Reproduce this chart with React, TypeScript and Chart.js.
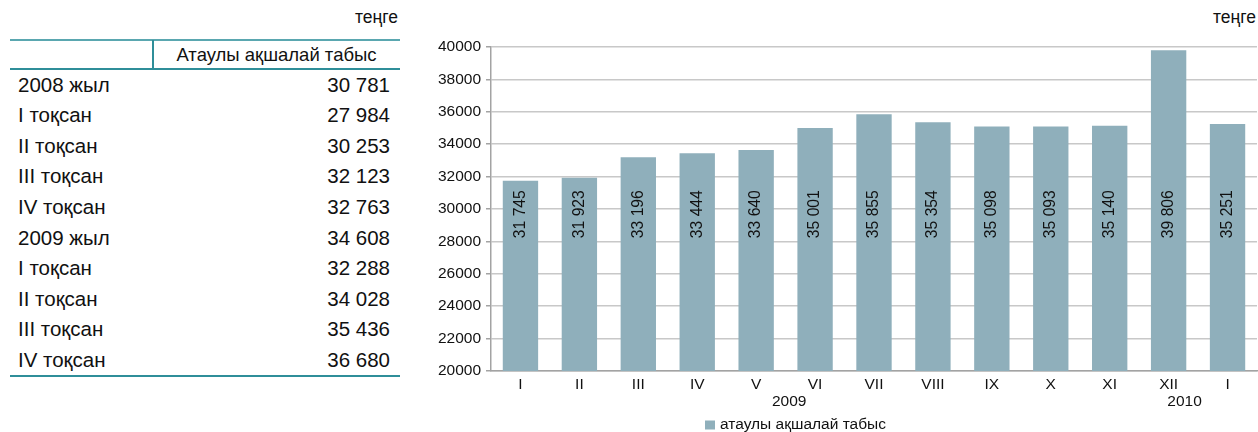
import React, { useEffect, useRef } from "react";
import { Chart, registerables } from "chart.js";

Chart.register(...registerables);

// ---------- data ----------
const months = ["I", "II", "III", "IV", "V", "VI", "VII", "VIII", "IX", "X", "XI", "XII", "I"];
const incomeValues = [31745, 31923, 33196, 33444, 33640, 35001, 35855, 35354, 35098, 35093, 35140, 39806, 35251];
const yearLabels = ["2009", "2010"];
const yMin = 20000;
const yMax = 40000;
const yStep = 2000;
const seriesLabel = "атаулы ақшалай табыс";
const unitLabel = "теңге";

const tableHeader = "Атаулы ақшалай табыс";
const tableRowLabels = [
  "2008 жыл",
  "I тоқсан",
  "II тоқсан",
  "III тоқсан",
  "IV тоқсан",
  "2009 жыл",
  "I тоқсан",
  "II тоқсан",
  "III тоқсан",
  "IV тоқсан",
];
const tableRowValues = [30781, 27984, 30253, 32123, 32763, 34608, 32288, 34028, 35436, 36680];

// ---------- styles ----------
const FONT = '"Liberation Sans", Arial, Helvetica, sans-serif';
const BAR_COLOR = "#8FAFBB";
const GRID_COLOR = "#c8c8c8";
const AXIS_COLOR = "#a3a3a3";
const TEXT_COLOR = "#111111";
const TEAL = "#2f8e99";
const TEAL_LIGHT = "#5aa7b0";

const fmt = (n: number) => String(n).replace(/\B(?=(\d{3})+(?!\d))/g, " ");

const extrasPlugin = {
  id: "extras",
  afterDatasetsDraw(chart: any) {
    const ctx = chart.ctx;
    const yScale = chart.scales.y;
    const meta = chart.getDatasetMeta(0);
    const values = chart.data.datasets[0].data as number[];
    ctx.save();
    ctx.fillStyle = TEXT_COLOR;
    ctx.font = `15.7px ${FONT}`;
    ctx.textAlign = "left";
    ctx.textBaseline = "middle";
    const baseY = yScale.getPixelForValue(28200);
    meta.data.forEach((bar: any, i: number) => {
      ctx.save();
      ctx.translate(bar.x, baseY);
      ctx.rotate(-Math.PI / 2);
      ctx.fillText(fmt(values[i]), 0, 0);
      ctx.restore();
    });
    ctx.restore();
  },
  afterDraw(chart: any) {
    const ctx = chart.ctx;
    const xScale = chart.scales.x;
    const area = chart.chartArea;
    ctx.save();
    ctx.fillStyle = TEXT_COLOR;
    ctx.font = `15.5px ${FONT}`;
    ctx.textAlign = "center";
    ctx.textBaseline = "middle";
    const yearAt = [4.56, 11.27];
    yearLabels.forEach((t, i) => {
      ctx.fillText(t, xScale.getPixelForValue(yearAt[i]), area.bottom + 31);
    });
    // legend
    const lx = area.left + 214;
    const ly = area.bottom + 54;
    ctx.fillStyle = BAR_COLOR;
    ctx.fillRect(lx, ly - 4.5, 10, 9);
    ctx.fillStyle = TEXT_COLOR;
    ctx.textAlign = "left";
    ctx.fillText(chart.data.datasets[0].label, lx + 15, ly);
    ctx.restore();
  },
};

function BarChart() {
  const ref = useRef<HTMLCanvasElement | null>(null);
  useEffect(() => {
    if (!ref.current) return;
    const font = { family: FONT, size: 15.5 };
    const chart = new Chart(ref.current, {
      type: "bar",
      data: {
        labels: months,
        datasets: [
          {
            label: seriesLabel,
            data: incomeValues,
            backgroundColor: BAR_COLOR,
            barPercentage: 0.6,
            categoryPercentage: 1,
          },
        ],
      },
      options: {
        animation: false,
        responsive: false,
        maintainAspectRatio: false,
        layout: { padding: { top: 47, right: 1, left: 0, bottom: 0 } },
        plugins: { legend: { display: false }, tooltip: { enabled: false } },
        scales: {
          x: {
            grid: { display: false, drawTicks: false },
            border: { display: true, color: AXIS_COLOR, width: 1.5 },
            ticks: { font, color: TEXT_COLOR, padding: 4, maxRotation: 0, autoSkip: false },
            afterFit: (s: any) => {
              s.height = 61;
            },
          },
          y: {
            min: yMin,
            max: yMax,
            ticks: {
              stepSize: yStep,
              font,
              color: TEXT_COLOR,
              padding: 5,
              callback: (v: any) => String(v),
            },
            grid: { color: GRID_COLOR, lineWidth: 1.5, tickLength: 5, tickColor: AXIS_COLOR },
            border: { color: AXIS_COLOR, width: 1.5 },
            afterFit: (s: any) => {
              s.width = 71;
            },
          },
        },
      },
      plugins: [extrasPlugin],
    } as any);
    return () => chart.destroy();
  }, []);
  return (
    <canvas
      ref={ref}
      width={838}
      height={432}
      style={{ position: "absolute", left: 420, top: 0, width: 838, height: 432 }}
    />
  );
}

export default function App() {
  const rowH = 30.56;
  const bodyTop = 69.7;
  return (
    <div
      style={{
        position: "absolute",
        left: 0,
        top: 0,
        width: 1258,
        height: 432,
        background: "#fff",
        fontFamily: FONT,
        color: TEXT_COLOR,
        overflow: "hidden",
      }}
    >
      {/* unit labels */}
      <div style={{ position: "absolute", right: 1258 - 398, top: 6, fontSize: 17.5, lineHeight: "22px" }}>
        {unitLabel}
      </div>
      <div style={{ position: "absolute", right: 2, top: 6, fontSize: 17.5, lineHeight: "22px" }}>{unitLabel}</div>

      {/* table */}
      <div style={{ position: "absolute", left: 10, top: 39, width: 390, height: 2, background: TEAL_LIGHT }} />
      <div style={{ position: "absolute", left: 10, top: 68, width: 390, height: 2, background: TEAL }} />
      <div style={{ position: "absolute", left: 152, top: 40, width: 1.5, height: 29, background: TEAL }} />
      <div
        style={{
          position: "absolute",
          left: 153,
          top: 41,
          width: 247,
          height: 27,
          fontSize: 18.5,
          lineHeight: "27px",
          textAlign: "center",
        }}
      >
        {tableHeader}
      </div>
      {tableRowLabels.map((lab, i) => (
        <div
          key={i}
          style={{
            position: "absolute",
            left: 10,
            top: bodyTop + i * rowH,
            width: 390,
            height: rowH,
            fontSize: 20.5,
            lineHeight: `${rowH}px`,
          }}
        >
          <span style={{ position: "absolute", left: 8 }}>{lab}</span>
          <span style={{ position: "absolute", right: 10 }}>{fmt(tableRowValues[i])}</span>
        </div>
      ))}
      <div style={{ position: "absolute", left: 10, top: 374.5, width: 390, height: 2, background: TEAL }} />

      <BarChart />
    </div>
  );
}
